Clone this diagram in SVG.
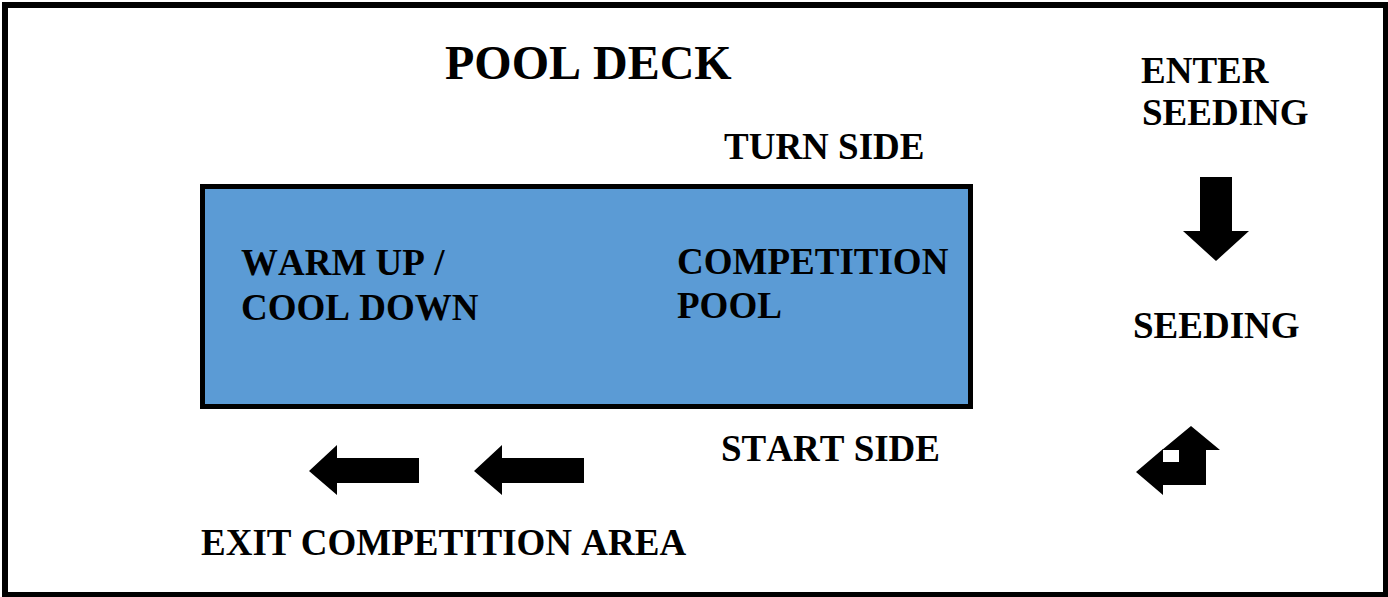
<svg xmlns="http://www.w3.org/2000/svg" width="1388" height="597" viewBox="0 0 1388 597">
<style>
text{font-family:"Liberation Serif","Times New Roman",serif;font-weight:bold;fill:#000;font-kerning:none}
.t{font-size:37px}
.arrow{fill:#000}
</style>
<rect x="0" y="0" width="1388" height="597" fill="#fff"/>
<rect id="frame" x="5" y="5" width="1381" height="590" fill="none" stroke="#000" stroke-width="6"/>
<g id="title"><text x="445" y="79" style="font-size:48px">POOL DECK</text></g>
<g id="pool">
<rect x="202.5" y="186.5" width="768" height="220" fill="#5B9BD5" stroke="#000" stroke-width="5"/>
<text class="t" x="241" y="275">WARM UP /</text>
<text class="t" x="241" y="320">COOL DOWN</text>
<text class="t" x="677" y="274">COMPETITION</text>
<text class="t" x="677" y="318">POOL</text>
</g>
<g id="turn-side"><text class="t" x="724" y="159">TURN SIDE</text></g>
<g id="start-side"><text class="t" x="721" y="461">START SIDE</text></g>
<g id="enter-seeding"><text class="t" x="1141" y="83">ENTER</text><text class="t" x="1142" y="125">SEEDING</text></g>
<g id="seeding"><text class="t" x="1133" y="338">SEEDING</text></g>
<g id="exit"><text class="t" x="201" y="555">EXIT COMPETITION AREA</text></g>
<g id="connectors">
<polygon class="arrow" points="1200,177 1232,177 1232,231 1249,231 1216,261 1183,231 1200,231"/>
<polygon class="arrow" points="419,458 419,483 337,483 337,495 309,471 337,445 337,458"/>
<polygon class="arrow" points="584,458 584,483 502,483 502,495 474,471 502,445 502,458"/>
<polygon class="arrow" points="1191,426 1220,450 1206,450 1206,485 1179,485 1179,450 1162,450"/>
<polygon class="arrow" points="1206,462 1206,485 1163,485 1163,495 1136,472 1163,449 1163,462"/>
</g>
</svg>
